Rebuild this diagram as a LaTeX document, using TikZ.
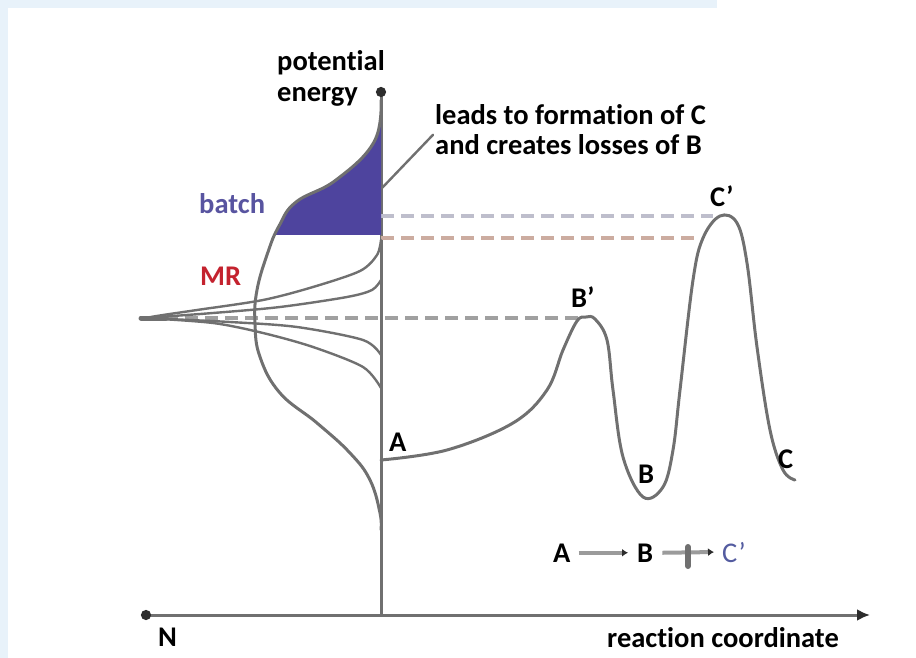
\documentclass[tikz,border=0pt]{standalone}
\usepackage{fontspec}
\setmainfont{Carlito}[Ligatures=NoCommon]
\usetikzlibrary{arrows.meta}
\definecolor{curvegray}{RGB}{112,112,112}
\definecolor{tipdark}{RGB}{45,45,45}
\definecolor{batchfill}{RGB}{78,68,158}
\definecolor{batchtext}{RGB}{88,84,160}
\definecolor{mrred}{RGB}{196,34,46}
\definecolor{levelblue}{RGB}{190,190,204}
\definecolor{levelbrown}{RGB}{204,172,160}
\definecolor{levelgray}{RGB}{160,160,160}
\definecolor{paleblue}{RGB}{232,242,250}
\definecolor{schemeblue}{RGB}{84,92,160}

\begin{document}
\begin{tikzpicture}[x=1pt,y=-1pt,
  lbl/.style={font=\bfseries\fontsize{28.5}{31}\selectfont, inner sep=0pt},
  curve/.style={curvegray, line width=3pt, line cap=round},
  axis/.style={curvegray, line width=3pt},
  level/.style={line width=4pt, dash pattern=on 13pt off 7pt}]
\useasboundingbox (0,0) rectangle (916,658);
% page frame
\fill[paleblue] (0,0) rectangle (717,8);
\fill[paleblue] (0,0) rectangle (8,658);

% axes
\coordinate (origin) at (381,615);
\coordinate (ytop) at (381,87);
\coordinate (xleft) at (141,615);
\coordinate (xright) at (870,615);
\draw[axis, {Circle[length=10pt,color=tipdark]}-{Latex[length=13pt,width=12pt,color=tipdark]}] (xleft) -- (xright);
\draw[axis, -{Circle[length=10pt,color=tipdark]}] (origin) -- (ytop);
\node[lbl, anchor=north west, align=left] (ylabel) at (277,50) {potential\\energy};
\node[lbl, anchor=base west] (nlabel) at (158,646) {N};
\node[lbl, anchor=base west] (xlabel) at (607,647) {reaction coordinate};

% energy levels
\draw[level, levelblue] (381,216) -- (713,216);
\draw[level, levelbrown] (381,238) -- (699,238);
\draw[level, levelgray, line width=3.5pt] (145,318) -- (580,318);

% batch distribution
\begin{scope}
\clip (0,0) rectangle (381,233);
\fill[batchfill] plot[smooth, tension=0.7] coordinates {(381,100) (374,142) (336,180) (296,202) (279,226) (268,252) (257,290) (255,323) (260,357) (280,393) (317,423) (350,453) (370,480) (380,513) (381,530)} -- cycle;
\end{scope}
\draw[batchfill, line width=3pt] (276,233) -- (381,233);
\draw[curve] plot[smooth, tension=0.7] coordinates {(381,100) (374,142) (336,180) (296,202) (279,226) (268,252) (257,290) (255,323) (260,357) (280,393) (317,423) (350,453) (370,480) (380,513) (381,530)};
\node[lbl, text=batchtext, anchor=base west] (batch) at (199,213) {batch};

% MR distribution
\draw[curve, line width=2.4pt] plot[smooth] coordinates {(145,318) (163,315) (197,310) (263,300) (313,287) (360,271) (377,255) (381,240)};
\draw[curve, line width=2.4pt] plot[smooth] coordinates {(145,318) (213,313) (280,307) (347,297) (372,290) (381,280)};
\draw[curve, line width=2.4pt] plot[smooth] coordinates {(145,318) (230,322) (297,327) (363,340) (381,355)};
\draw[curve, line width=2.4pt] plot[smooth] coordinates {(145,318) (213,323) (263,333) (313,347) (363,367) (381,388)};
\draw[curvegray, line width=5pt, line cap=round] (141,318) -- (166,318);
\node[lbl, text=mrred, anchor=base west] (mr) at (200,285) {MR};

% reaction profile
\draw[curve] plot[smooth, tension=0.6] coordinates {(381,460) (447,450) (513,423) (547,390) (563,350) (577,321) (586,317) (595,319) (607,340) (613,390) (623,457) (643,497) (663,487) (673,450) (680,390) (693,280) (703,238) (720,216) (737,223) (747,263) (757,347) (770,430) (783,470) (795,480)};
\node[lbl, anchor=base west] (A) at (389,451) {A};
\node[lbl, anchor=base west] (Bts) at (571,307) {B’};
\node[lbl, anchor=base west] (B) at (638,483) {B};
\node[lbl, anchor=base west] (Cts) at (710,207) {C’};
\node[lbl, anchor=base west] (C) at (778,468) {C};

% annotation
\node[lbl, anchor=base west] (note) at (435,125) {leads to formation of C};
\node[lbl, anchor=base west] (note2) at (435,155) {and creates losses of B};
\coordinate (notefoot) at (382,188);
\draw[curve, line width=2.4pt] (notefoot) -- ([xshift=-2pt]note2.north west);

% reaction scheme
\node[lbl, anchor=base west] (sA) at (553,562) {A};
\node[lbl, anchor=base west] (sB) at (637,562) {B};
\node[lbl, text=schemeblue, font=\fontsize{28.5}{31}\selectfont, anchor=base west] (sC) at (722,562) {C’};
\draw[curvegray!70, line width=4pt, -{Latex[length=6pt,width=8pt,color=tipdark]}] ([xshift=8pt]sA.east) -- ([xshift=-9pt]sB.west);
\draw[curvegray!70, line width=4pt, -{Latex[length=6pt,width=8pt,color=tipdark]}] ([xshift=9pt]sB.east) -- ([xshift=-8pt]sC.west);
\draw[curvegray, line width=6pt, line cap=round] (688,547) -- (688,566);
\end{tikzpicture}
\end{document}
